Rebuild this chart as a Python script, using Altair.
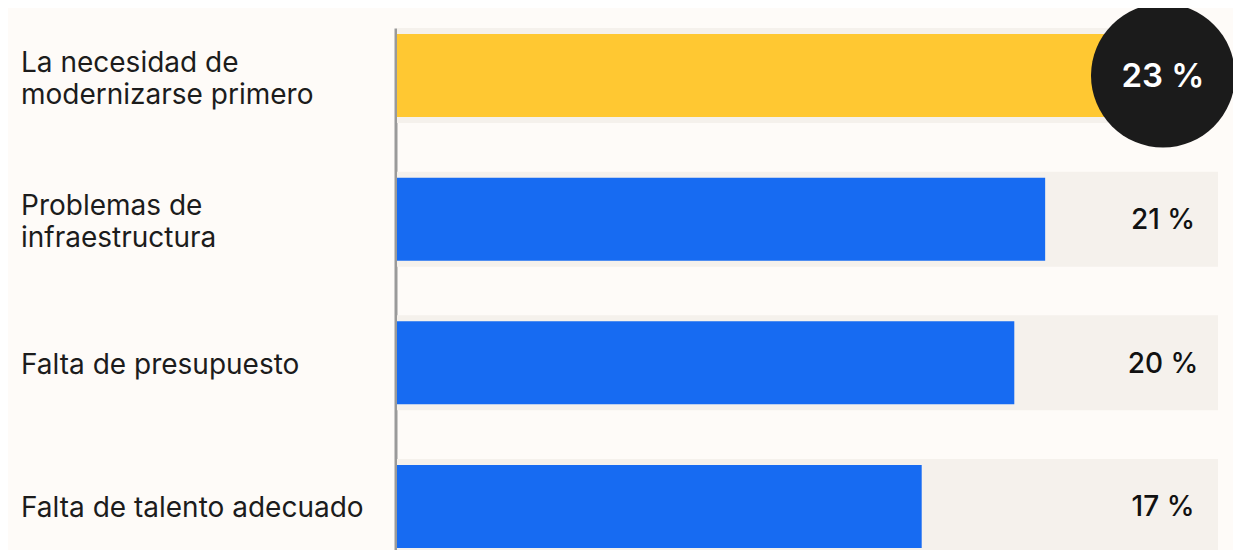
import altair as alt
import pandas as pd

categories = ["La necesidad de\nmodernizarse primero", "Problemas de\ninfraestructura",
              "Falta de presupuesto", "Falta de talento adecuado"]
values = [23, 21, 20, 17]
value_labels = ["23 %", "21 %", "20 %", "17 %"]
highlight = [True, False, False, False]
axis_max = 26.6

df = pd.DataFrame({"cat": categories, "value": values, "label": value_labels, "hl": highlight})

W, H = 821, 526
FONT = "Inter"
LABEL_X = 766

y = alt.Y("cat:N", sort=categories,
          scale=alt.Scale(paddingInner=0.338, paddingOuter=0),
          axis=alt.Axis(labels=False, ticks=False, title=None, domain=True,
                        domainColor="#9a9a9a", domainWidth=3, offset=1.5))
xs = alt.Scale(domain=[0, axis_max], nice=False, zero=True)

base = alt.Chart(df)

band = base.mark_bar(color="#F5F1EC").encode(
    y=y,
    x=alt.X("zero:Q", scale=xs, axis=None),
    x2="full:Q",
).transform_calculate(zero="0", full=str(axis_max))

bars = base.mark_bar(size=83).encode(
    y=y,
    x=alt.X("value:Q", scale=xs, axis=None),
    color=alt.Color("hl:N", scale=alt.Scale(domain=[True, False], range=["#FFC832", "#176BF2"]), legend=None),
)

circle = base.transform_filter("datum.hl").mark_point(
    shape="circle", filled=True, size=20736, color="#1B1B1B", opacity=1).encode(
    y=y, x=alt.value(LABEL_X))

circle_text = base.transform_filter("datum.hl").mark_text(
    align="center", baseline="middle", color="white",
    font=FONT, fontSize=33, fontWeight=600, dy=1).encode(
    y=y, x=alt.value(LABEL_X), text="label:N")

val_text = base.transform_filter("!datum.hl").mark_text(
    align="center", baseline="middle", color="#111111", font=FONT, fontSize=28,
    fontWeight=500, dy=2).encode(
    y=y, x=alt.value(LABEL_X), text="label:N")

cat_two = base.transform_filter("indexof(datum.cat, '\\n') >= 0").mark_text(
    align="left", baseline="middle", color="#1c1c1c", font=FONT, fontSize=28,
    lineBreak="\n", lineHeight=32, dy=-12).encode(
    y=y, x=alt.value(-376), text="cat:N")

cat_one = base.transform_filter("indexof(datum.cat, '\\n') < 0").mark_text(
    align="left", baseline="middle", color="#1c1c1c", font=FONT, fontSize=28,
    dy=3).encode(
    y=y, x=alt.value(-376), text="cat:N")

chart = alt.layer(band, bars, circle, circle_text, val_text, cat_two, cat_one).properties(
    width=W, height=H,
    autosize=alt.AutoSizeParams(type="none"),
    padding={"left": 389, "top": 20, "right": 15, "bottom": 0},
    background="#FEFBF8",
).configure_view(stroke=None)

chart.save("out.html", embed_options={"renderer": "svg", "actions": False})
